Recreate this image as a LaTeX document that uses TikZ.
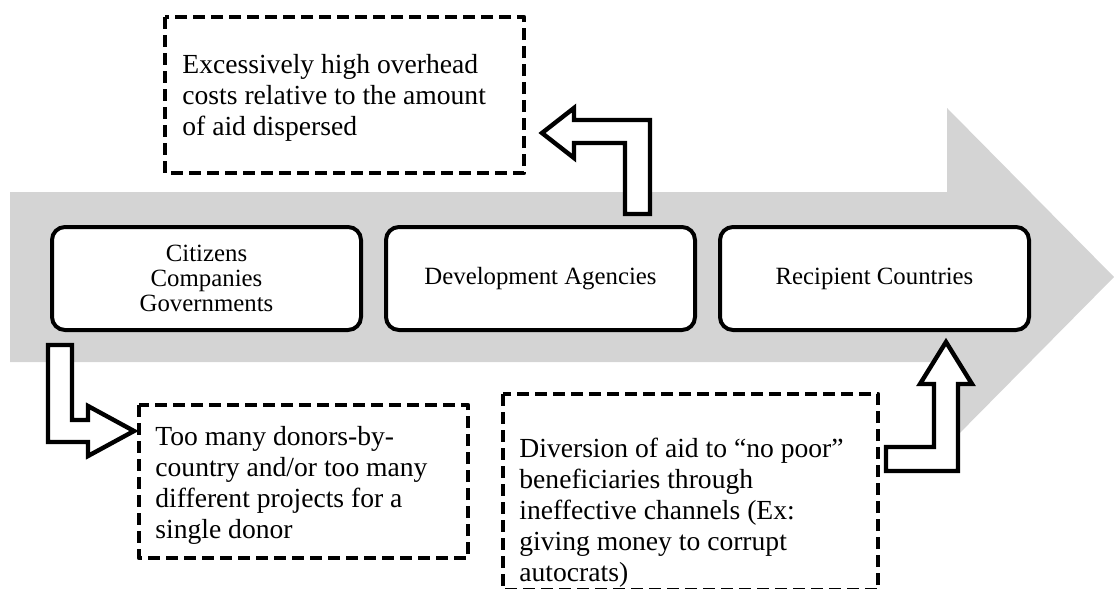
\documentclass[tikz,border=0pt]{standalone}
\usepackage{fontspec}
\setmainfont{Liberation Serif}
\definecolor{bandgray}{HTML}{D4D4D4}
\tikzset{
  stage/.style={draw,line width=2pt,rounded corners=6.5pt,fill=white,
    minimum width=154.5pt,minimum height=51.5pt,align=center,
    font=\fontsize{12.4}{12.5}\selectfont},
  dashbox/.style={draw,line width=2.3pt,dash pattern=on 6pt off 3pt,line join=round},
  boxtext/.style={anchor=north west,inner sep=0pt,align=left,
    font=\fontsize{13.8}{15.5}\selectfont},
  bentarrow/.style={draw,fill=white,line width=2.2pt,line join=miter}
}
\begin{document}
\begin{tikzpicture}[x=0.5pt,y=-0.5pt]
%\draw[step=50,gray,very thin] (0,0) grid (1114,589);
\useasboundingbox (0,0) rectangle (1114,589);
\fill[bandgray] (10,192)--(947,192)--(947,108)--(1114,277)--(947,446)--(947,362)--(10,362)--cycle;

\node[stage] (donor)     at (206.5,278.5) {Citizens\\Companies\\Governments};
\node[stage] (agency)    at (540.5,278.5) {Development Agencies};
\node[stage] (recipient) at (874.5,278.5) {Recipient Countries};

\draw[dashbox] (165,17)  rectangle (524,173);
\draw[dashbox] (139,405) rectangle (468,558);
\draw[dashbox] (503,394) rectangle (878,590);

\node[boxtext] (overhead)  at (182,54)  {Excessively high overhead\\costs relative to the amount\\of aid dispersed};
\node[boxtext] (donors)    at (155,426) {Too many donors-by-\\country and/or too many\\different projects for a\\single donor};
\node[boxtext] (diversion) at (519,438) {Diversion of aid to “no poor”\\beneficiaries through\\ineffective channels (Ex:\\giving money to corrupt\\autocrats)};

\draw[bentarrow] (625,214)--(650,214)--(650,120)--(574,120)--(574,108)--(542,133)--(574,158)--(574,143)--(625,143)--cycle;
\draw[bentarrow] (48,345)--(72,345)--(72,420)--(88,420)--(88,406)--(134,431)--(88,456)--(88,442)--(48,442)--cycle;
\draw[bentarrow] (886,447)--(934,447)--(934,384)--(920,384)--(946,342)--(972,384)--(958,384)--(958,471)--(886,471)--cycle;

\end{tikzpicture}
\end{document}
